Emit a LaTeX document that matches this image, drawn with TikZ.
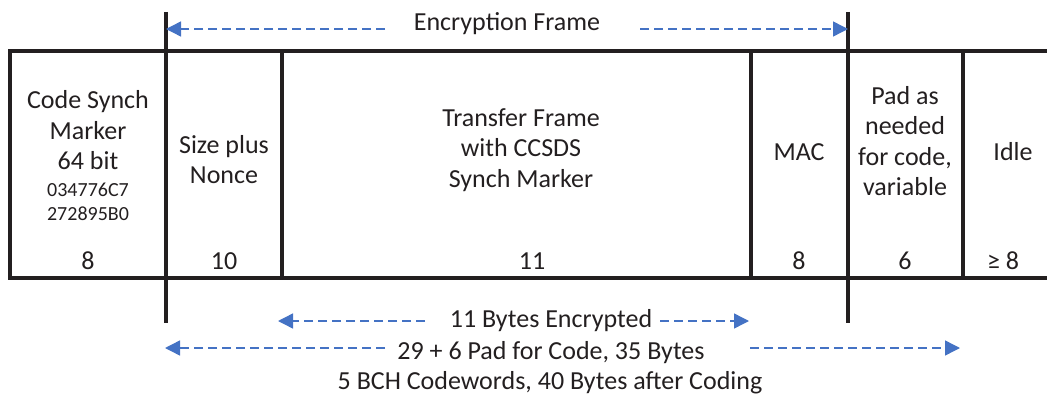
\documentclass[tikz,border=0pt]{standalone}
\usepackage{fontspec}
\setmainfont{Carlito}
\usetikzlibrary{arrows.meta}
\definecolor{ink}{RGB}{35,31,32}
\definecolor{arrblue}{RGB}{68,114,196}
\tikzset{
  frameline/.style={draw=ink,line width=3.6pt},
  lbl/.style={inner sep=0pt,align=center,text=ink,font=\fontsize{26}{30.5}\selectfont},
  small/.style={inner sep=0pt,align=center,text=ink,font=\fontsize{20}{24}\selectfont},
  darrow/.style={draw=arrblue,line width=1.4pt,dash pattern=on 9pt off 5pt,-{Triangle[length=15pt,width=15pt]}}
}
\begin{document}
\begin{tikzpicture}[x=1pt,y=-1pt]
\useasboundingbox (0,0) rectangle (1047,396);
% frame
\draw[frameline] (1047,51) -- (10,51) -- (10,278) -- (1047,278);
\draw[frameline] (166,12) -- (166,323);
\draw[frameline] (282,51) -- (282,278);
\draw[frameline] (751,51) -- (751,278);
\draw[frameline] (848,12) -- (848,323);
\draw[frameline] (963,51) -- (963,278);
% cell texts
\node[lbl] (cs) at (88,130.5) {Code Synch\\Marker\\64 bit};
\node[small] (hex) at (88,202) {034776C7\\272895B0};
\node[lbl] (sn) at (224,159.5) {Size plus\\Nonce};
\node[lbl] (tf) at (521,150) {Transfer Frame\\with CCSDS\\Synch Marker};
\node[lbl] (mac) at (799,152) {MAC};
\node[lbl] (pad) at (905,141) {Pad as\\needed\\for code,\\variable};
\node[lbl] (idle) at (1013,152) {Idle};
\node[lbl] (n1) at (88,261) {8};
\node[lbl] (n2) at (224,261) {10};
\node[lbl] (n3) at (532,261) {11};
\node[lbl] (n4) at (799,261) {8};
\node[lbl] (n5) at (905,261) {6};
\node[lbl] (n6) at (1003,261) {≥ 8};
% bottom/top labels
\node[lbl] (ef) at (507,24) {Encryption Frame};
\node[lbl] (be) at (551,321) {11 Bytes Encrypted};
\node[lbl] (pc) at (551,353) {29 + 6 Pad for Code, 35 Bytes};
\node[lbl] (bch) at (550,383) {5 BCH Codewords, 40 Bytes after Coding};
% arrow coordinates
\coordinate (efL) at (385,29);
\coordinate (efLt) at (166,29);
\coordinate (efR) at (640,29);
\coordinate (efRt) at (848,29);
\coordinate (beL) at (425,321);
\coordinate (beLt) at (278,321);
\coordinate (beR) at (660,321);
\coordinate (beRt) at (749,321);
\coordinate (pcL) at (385,348);
\coordinate (pcLt) at (165,348);
\coordinate (pcR) at (750,348);
\coordinate (pcRt) at (960,348);
\draw[darrow] (efL) -- (efLt);
\draw[darrow] (efR) -- (efRt);
\draw[darrow] (beL) -- (beLt);
\draw[darrow] (beR) -- (beRt);
\draw[darrow] (pcL) -- (pcLt);
\draw[darrow] (pcR) -- (pcRt);
\end{tikzpicture}
\end{document}
